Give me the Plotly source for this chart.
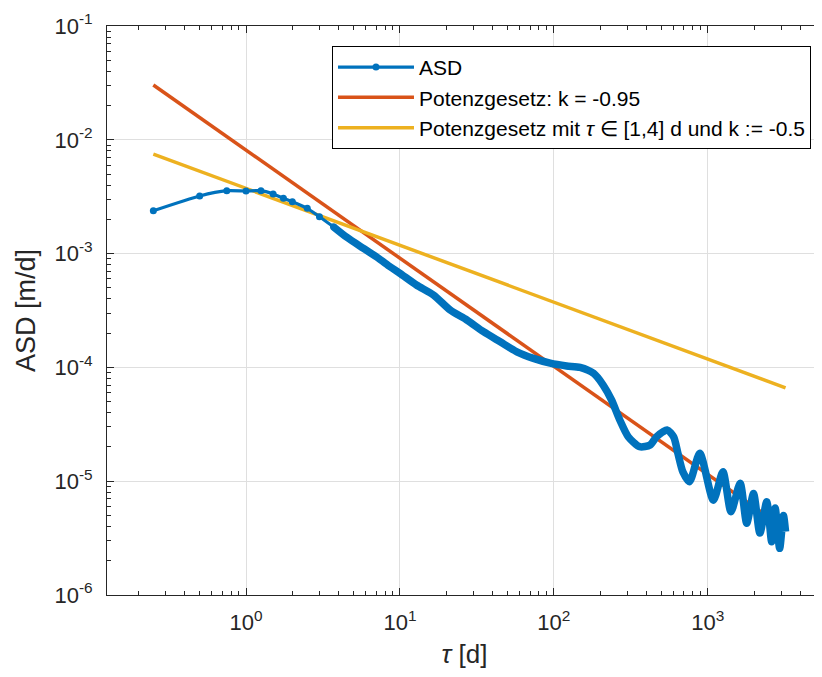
import plotly.graph_objects as go
import math

# ---- data ----
# ASD, first (sparse, dotted) part
tau_start = [0.25, 0.5, 0.75, 1.0, 1.25, 1.5, 1.75, 2.0, 2.5, 3.0, 3.7]
asd_start = [0.00238, 0.00321, 0.00357, 0.00355, 0.00357, 0.00334, 0.00306, 0.00286, 0.0025, 0.00211, 0.00172]

# ASD, dense part (drawn as thick band)
tau_dense = [3.7, 4.52, 5.8, 7.25, 8.63, 10.0, 12.8, 16.5, 21.2, 27.2, 34.9, 44.8, 57.5, 73.7, 94.6,
             121, 148, 181, 209, 237, 268, 304, 361, 422, 465, 544, 600, 640, 690, 761, 887,
             1087, 1254, 1415, 1622, 1790, 1982, 2180, 2415, 2600, 2740, 2930, 3100, 3200]
asd_dense = [0.00172, 0.00139, 0.00111, 0.00091, 7.67e-4, 6.71e-4, 5.30e-4, 4.33e-4, 3.19e-4, 2.61e-4,
             2.06e-4, 1.68e-4, 1.37e-4, 1.20e-4, 1.09e-4, 1.03e-4, 1.00e-4, 8.87e-5, 7.0e-5, 5.17e-5,
             3.45e-5, 2.46e-5, 2.01e-5, 2.08e-5, 2.46e-5, 2.82e-5, 2.45e-5, 1.75e-5, 1.2e-5, 9.9e-6,
             1.76e-5, 6.8e-6, 1.21e-5, 5.4e-6, 9.6e-6, 4.27e-6, 7.8e-6, 3.5e-6, 6.6e-6, 2.94e-6,
             5.8e-6, 2.57e-6, 5.0e-6, 3.6e-6]

# power-law lines
tau_fit = [0.25, 3200]
fit_k095 = [0.0303, 3.8e-6]
fit_k05 = [0.0075, 6.6e-5]

x_tickvals = [1, 10, 100, 1000]
x_ticktext = ["10<sup>0</sup>", "10<sup>1</sup>", "10<sup>2</sup>", "10<sup>3</sup>"]
y_tickvals = [1e-6, 1e-5, 1e-4, 1e-3, 1e-2, 1e-1]
y_ticktext = ["10<sup>-6</sup>", "10<sup>-5</sup>", "10<sup>-4</sup>", "10<sup>-3</sup>",
              "10<sup>-2</sup>", "10<sup>-1</sup>"]

names = ["ASD", "Potenzgesetz: k = -0.95", "Potenzgesetz mit <i>τ</i> ∈ [1,4] d und k := -0.5"]

BLUE = "#0072BD"
RED = "#D95319"
YEL = "#EDB120"
AX = "#262626"

x_minor = [m * 10 ** d for d in range(-1, 4) for m in range(2, 10)]
y_minor = [m * 10 ** d for d in range(-6, -1) for m in range(2, 10)]

fig = go.Figure()
fig.add_trace(go.Scatter(x=tau_fit, y=fit_k095, mode="lines", name=names[1],
                         line=dict(color=RED, width=3.5), legendrank=2))
fig.add_trace(go.Scatter(x=tau_fit, y=fit_k05, mode="lines", name=names[2],
                         line=dict(color=YEL, width=3.5), legendrank=3))
fig.add_trace(go.Scatter(x=tau_dense, y=asd_dense, mode="lines", showlegend=False,
                         line=dict(color=BLUE, width=7.5, shape="spline", smoothing=0.7),
                         hoverinfo="skip"))
fig.add_trace(go.Scatter(x=tau_start, y=asd_start, mode="lines+markers", name=names[0],
                         line=dict(color=BLUE, width=3.2, shape="spline", smoothing=0.6),
                         marker=dict(color=BLUE, size=7),
                         legendrank=1))

font_family = "Liberation Sans, Arial, Helvetica, sans-serif"

# the page body adds an 8px offset; size/margins compensate for it
fig.update_layout(
    width=814, height=669,
    margin=dict(l=99, r=0, t=18, b=82),
    paper_bgcolor="white", plot_bgcolor="white",
    font=dict(family=font_family, color=AX, size=20),
    showlegend=True,
    legend=dict(
        x=0.9846, y=0.965, xanchor="right", yanchor="top",
        bgcolor="white", bordercolor="black", borderwidth=1,
        font=dict(size=21, color="black", family=font_family),
        itemwidth=76, tracegroupgap=0,
    ),
)

fig.update_xaxes(
    type="log", range=[math.log10(0.125), math.log10(5520)],
    tickmode="array", tickvals=x_tickvals, ticktext=x_ticktext,
    ticks="inside", ticklen=7, tickcolor=AX, tickwidth=1,
    showline=True, linecolor=AX, linewidth=1, mirror="ticks",
    showgrid=True, gridcolor="#dfdfdf", gridwidth=1,
    zeroline=False, automargin=False,
    tickfont=dict(size=22, color=AX),
    ticklabelstandoff=8,
    minor=dict(tickmode="array", tickvals=x_minor, ticks="inside", ticklen=4,
               tickcolor=AX, showgrid=False),
    title=dict(text="<i>τ</i> [d]", font=dict(size=26, color=AX), standoff=10),
)
fig.update_yaxes(
    type="log", range=[-6, -1],
    tickmode="array", tickvals=y_tickvals, ticktext=y_ticktext,
    ticks="inside", ticklen=7, tickcolor=AX, tickwidth=1,
    showline=True, linecolor=AX, linewidth=1, mirror=False,
    showgrid=True, gridcolor="#dfdfdf", gridwidth=1,
    zeroline=False, automargin=False,
    tickfont=dict(size=22, color=AX),
    ticklabelstandoff=9,
    minor=dict(tickmode="array", tickvals=y_minor, ticks="inside", ticklen=4,
               tickcolor=AX, showgrid=False),
    title=dict(text="ASD [m/d]", font=dict(size=27, color=AX), standoff=10),
)

fig.write_html("out.html")
